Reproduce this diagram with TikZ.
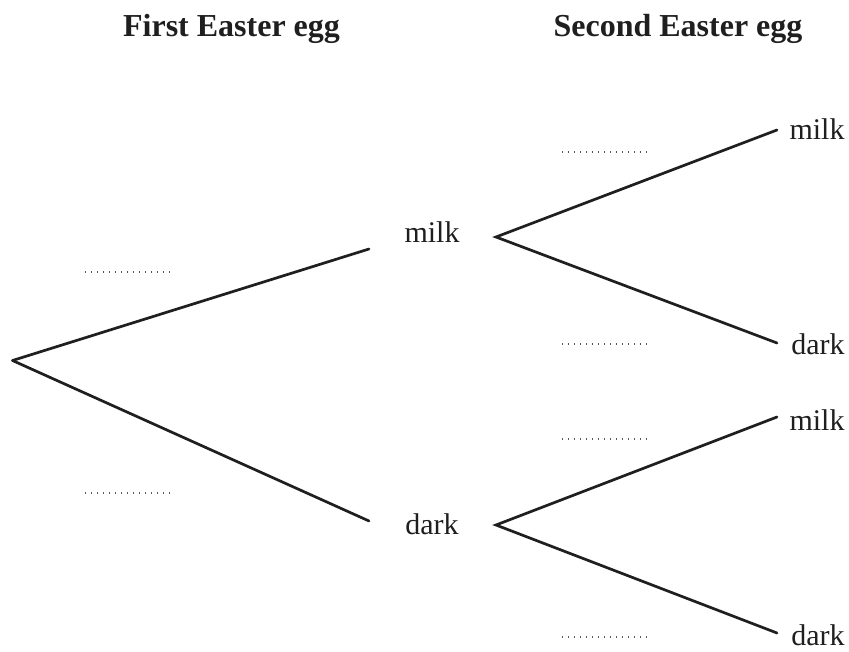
\documentclass[tikz,border=0pt]{standalone}
\usepackage{fontspec}
\setmainfont{Liberation Serif}
\begin{document}
\begin{tikzpicture}[x=1pt,y=-1pt,
  branch/.style={line width=2.7pt, line cap=round, color=black!88},
  lbl/.style={anchor=base, inner sep=0pt, font=\fontsize{30}{31}\selectfont, text=black!88},
  head/.style={anchor=base, inner sep=0pt, font=\fontsize{32}{34}\selectfont\bfseries, text=black!88},
  blank/.style={line width=1.2pt, color=black!65, dash pattern=on 1.2pt off 4.8pt}]
\useasboundingbox (0,0) rectangle (849,652);
% headers
\node[head] (h1) at (231.5,37) {First Easter egg};
\node[head] (h2) at (678,37) {Second Easter egg};
% branch points
\coordinate (root) at (12.5,360.5);
\coordinate (m1end) at (369,249);
\coordinate (d1end) at (369,521);
\coordinate (m1start) at (496,237);
\coordinate (d1start) at (496,525);
\coordinate (mmend) at (777,130);
\coordinate (mdend) at (777,343);
\coordinate (dmend) at (777,417);
\coordinate (ddend) at (777,633);
% labels
\node[lbl] (m1) at (432,243) {milk};
\node[lbl] (d1) at (432,534) {dark};
\node[lbl] (mm) at (817,140) {milk};
\node[lbl] (md) at (818,355) {dark};
\node[lbl] (dm) at (817,430) {milk};
\node[lbl] (dd) at (818,645) {dark};
% branches
\draw[branch] (root) -- (m1end);
\draw[branch] (root) -- (d1end);
\draw[branch] (mmend) -- (m1start) -- (mdend);
\draw[branch] (dmend) -- (d1start) -- (ddend);
% answer blanks
\coordinate (b1a) at (85,272);  \coordinate (b1b) at (172,272);
\coordinate (b2a) at (85,493);  \coordinate (b2b) at (172,493);
\coordinate (b3a) at (562,152); \coordinate (b3b) at (649,152);
\coordinate (b4a) at (562,344); \coordinate (b4b) at (649,344);
\coordinate (b5a) at (562,439); \coordinate (b5b) at (649,439);
\coordinate (b6a) at (562,637); \coordinate (b6b) at (649,637);
\draw[blank] (b1a) -- (b1b);
\draw[blank] (b2a) -- (b2b);
\draw[blank] (b3a) -- (b3b);
\draw[blank] (b4a) -- (b4b);
\draw[blank] (b5a) -- (b5b);
\draw[blank] (b6a) -- (b6b);
\end{tikzpicture}
\end{document}
